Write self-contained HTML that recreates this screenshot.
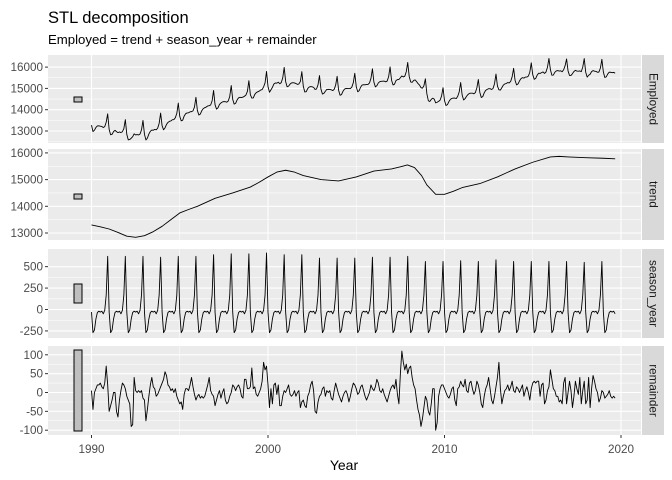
<!DOCTYPE html>
<html><head><meta charset="utf-8"><style>
body{margin:0;background:#fff;}
svg{display:block;font-family:"Liberation Sans",Arial,sans-serif;}
</style></head><body>
<svg id="c" width="672" height="480" xmlns="http://www.w3.org/2000/svg">
<text x="48" y="23" font-size="16.5" fill="#000">STL decomposition</text>
<text x="48" y="44" font-size="13.2" fill="#000">Employed = trend + season_year + remainder</text>
<text x="344" y="470" font-size="14" fill="#000" text-anchor="middle">Year</text>
</svg>
<script>
const startYear = 1990;
const trendKnotYears = [1990,1990.5,1991,1991.5,1992,1992.5,1993,1993.5,1994,1994.5,1995,1995.5,1996,1997,1998,1999,1999.5,2000,2000.5,2001,2001.5,2002,2003,2004,2005,2006,2007,2007.5,2007.9,2008.3,2008.7,2009,2009.5,2010,2010.5,2011,2012,2013,2014,2015,2016,2016.5,2017,2018,2019,2019.67];
const trendKnotValues = [13300,13230,13150,13020,12880,12840,12900,13050,13250,13500,13750,13880,14000,14300,14500,14720,14900,15100,15280,15350,15280,15150,15000,14950,15100,15320,15400,15480,15550,15450,15150,14800,14450,14450,14560,14700,14850,15100,15400,15650,15850,15870,15850,15820,15800,15780];
const seasonMonthPattern = [-30,-270,-240,-110,-35,-20,-30,-20,-50,-10,170,0];
const seasonDecPeaks = [620,620,620,610,620,620,640,650,650,660,640,640,600,600,600,610,610,620,560,560,570,560,580,560,560,560,560,550,560,560];
const remainder = [
5,-45,0,10,20,20,25,15,10,25,70,20,
-50,-35,-20,0,0,-50,-65,-20,5,25,20,10,
-10,-20,-30,-90,-85,40,5,0,5,0,5,-15,
-20,-75,-45,-10,20,40,15,10,-10,-5,5,15,
25,35,55,45,20,15,5,10,0,10,-10,-20,
-30,-25,-45,-5,10,10,5,20,40,15,-5,-20,
-10,-5,-15,-10,-15,-10,5,20,40,5,-5,-10,
-35,-20,-5,5,-15,0,10,-20,-30,-25,-10,0,
20,15,5,15,20,10,-10,-15,35,35,10,10,
15,65,10,15,-5,-10,0,10,30,80,60,70,
20,-40,10,-30,20,25,-5,20,-35,-35,-10,5,
0,10,20,-5,-10,-5,5,-10,0,5,-40,-25,
-20,-35,-40,-10,0,20,30,5,-50,-55,-25,-10,
-5,10,15,-10,5,0,5,-15,-20,5,25,10,
-5,-15,-25,-10,0,5,-5,-25,-10,10,25,20,
10,-5,0,15,20,5,-10,-20,-10,0,20,10,
5,15,35,25,5,0,10,-5,-15,-25,-10,5,
15,20,10,35,-5,-30,50,110,80,60,75,50,
65,70,40,20,10,-20,-45,-60,-90,-70,-40,-10,
-20,-50,-60,-30,10,10,-100,-80,-10,10,20,20,
10,0,-10,-15,-5,10,15,-20,-35,10,15,30,
20,15,35,5,0,25,30,10,-5,5,30,20,
0,-30,-40,-10,10,20,40,10,-20,-30,-10,15,
40,80,10,-30,-10,5,10,20,5,15,30,5,
0,15,10,0,10,20,-10,5,15,0,-20,10,
25,30,25,30,30,-10,20,25,-30,-20,5,15,
60,35,10,5,-10,-10,-25,-20,-30,25,40,-30,
0,30,5,-40,-10,30,10,-5,40,-30,5,30,
-30,-20,40,-40,10,45,30,10,0,-25,-15,5,
0,-15,-10,-5,5,-10,-15,-10,-15];
const xTicks = [1990,2000,2010,2020];
const xMinor = [1995,2005,2015];

const NS="http://www.w3.org/2000/svg";
const svg=document.getElementById('c');
function mk(t,a,p){const e=document.createElementNS(NS,t);for(const k in a)e.setAttribute(k,a[k]);(p||svg).appendChild(e);return e;}
const X0=48,X1=641;
const xs=y=>91.5+(y-1990)*17.65;

const n=remainder.length;
const tm=[],season=[],trendM=[],employed=[];
function trendAt(t){for(let i=0;i<trendKnotYears.length-1;i++){const a=trendKnotYears[i],b=trendKnotYears[i+1];if(t<=b){const f=(t-a)/(b-a);return trendKnotValues[i]+f*(trendKnotValues[i+1]-trendKnotValues[i]);}}return trendKnotValues[trendKnotValues.length-1];}
for(let i=0;i<n;i++){const yr=Math.floor(i/12),m=i%12;const t=startYear+i/12;tm.push(t);
 const s=m===11?seasonDecPeaks[yr]:seasonMonthPattern[m];season.push(s);
 const tr=trendAt(t);trendM.push(tr);employed.push(tr+s+remainder[i]);}

const panels=[
 {name:'employed',label:'Employed',top:55,bot:143,v0:13000,y0:131,k:21.3/1000,ticks:[13000,14000,15000,16000],minor:[12500,13500,14500,15500],bar:[97,102],xs:tm,ys:employed},
 {name:'trend',label:'trend',top:149,bot:240,v0:13000,y0:233,k:26.7/1000,ticks:[13000,14000,15000,16000],minor:[13500,14500,15500],bar:[194,199],xs:trendKnotYears,ys:trendKnotValues},
 {name:'season-year',label:'season_year',top:249,bot:338,v0:0,y0:309.5,k:0.0857,ticks:[-250,0,250,500],minor:[-125,125,375],bar:[284,303],xs:tm,ys:season},
 {name:'remainder',label:'remainder',top:346,bot:435,v0:0,y0:392.5,k:0.377,ticks:[-100,-50,0,50,100],minor:[-75,-25,25,75],bar:[350,431],xs:tm,ys:remainder}
];
panels.forEach(p=>{
 const g=mk('g',{});
 
 
 const ys=v=>p.y0-(v-p.v0)*p.k;
 mk('rect',{x:X0,y:p.top,width:X1-X0,height:p.bot-p.top,fill:'#ebebeb'},g);
 p.minor.forEach(v=>{const y=ys(v);if(y>p.top&&y<p.bot)mk('line',{x1:X0,x2:X1,y1:y,y2:y,stroke:'#fff','stroke-width':0.55},g);});
 xMinor.forEach(v=>mk('line',{x1:xs(v),x2:xs(v),y1:p.top,y2:p.bot,stroke:'#fff','stroke-width':0.55},g));
 p.ticks.forEach(v=>{const y=ys(v);mk('line',{x1:X0,x2:X1,y1:y,y2:y,stroke:'#fff','stroke-width':1.1},g);
  mk('line',{x1:X0-3,x2:X0,y1:y,y2:y,stroke:'#333','stroke-width':1},g);
  const t=mk('text',{x:X0-5,y:y+4,'font-size':11.7,fill:'#4d4d4d','text-anchor':'end'},g);t.textContent=v;
  
  });
 xTicks.forEach(v=>mk('line',{x1:xs(v),x2:xs(v),y1:p.top,y2:p.bot,stroke:'#fff','stroke-width':1.1},g));
 const bar=mk('rect',{x:74,y:p.bar[0],width:8,height:p.bar[1]-p.bar[0],fill:'#bfbfbf',stroke:'#000','stroke-width':1},g);
 
 
 const pts=p.xs.map((t,i)=>xs(t).toFixed(2)+','+ys(p.ys[i]).toFixed(2)).join(' ');
 const line=mk('polyline',{points:pts,fill:'none',stroke:'#000','stroke-width':0.9,'stroke-linejoin':'round'},g);
 
 
 mk('rect',{x:642,y:p.top,width:22,height:p.bot-p.top,fill:'#d9d9d9'},g);
 const cy=(p.top+p.bot)/2;
 const st=mk('text',{x:653,y:cy,'font-size':11.7,fill:'#1a1a1a','text-anchor':'middle','dominant-baseline':'central',transform:`rotate(90 653 ${cy})`},g);
 st.textContent=p.label;
 
 
});
xTicks.forEach(v=>{
 mk('line',{x1:xs(v),x2:xs(v),y1:435,y2:438,stroke:'#333','stroke-width':1});
 const t=mk('text',{x:xs(v),y:453,'font-size':11.7,fill:'#4d4d4d','text-anchor':'middle'});t.textContent=v;
 
 
});
</script>
</body></html>
